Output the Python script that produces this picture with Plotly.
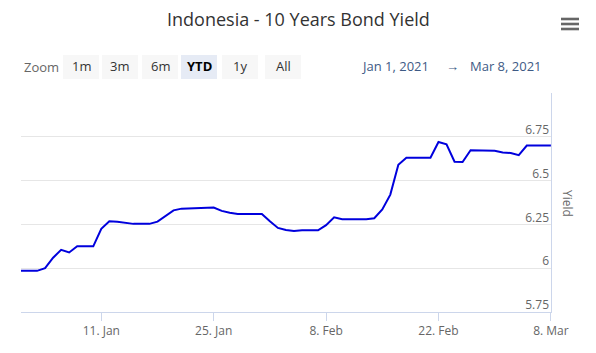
import pandas as pd
import plotly.graph_objects as go

# ---- data ----
dates = pd.date_range("2021-01-01", "2021-03-08", freq="D")
yield_values = [
    # Jan
    5.985, 5.985, 5.985, 6.00, 6.06, 6.105, 6.09, 6.125, 6.125, 6.125,
    6.225, 6.268, 6.265, 6.26, 6.253, 6.253, 6.253, 6.266, 6.297, 6.33,
    6.34, 6.342, 6.342, 6.342, 6.346, 6.327, 6.316, 6.31, 6.31, 6.31, 6.31,
    # Feb
    6.268, 6.23, 6.218, 6.213, 6.216, 6.216, 6.216, 6.246, 6.29, 6.28,
    6.28, 6.28, 6.28, 6.285, 6.335, 6.42, 6.59, 6.63, 6.63, 6.63,
    6.63, 6.72, 6.707, 6.608, 6.606, 6.673, 6.673, 6.673,
    # Mar
    6.67, 6.66, 6.658, 6.645, 6.70, 6.70, 6.70, 6.70,
]
x_tick_vals = ["2021-01-11", "2021-01-25", "2021-02-08", "2021-02-22", "2021-03-08"]
x_tick_text = ["11. Jan", "25. Jan", "8. Feb", "22. Feb", "8. Mar"]
y_tick_vals = [5.75, 6.0, 6.25, 6.5, 6.75, 7.0]
y_tick_text = ["5.75", "6", "6.25", "6.5", "6.75", ""]
zoom_buttons = ["1m", "3m", "6m", "YTD", "1y", "All"]
selected_button = "YTD"
title_text = "Indonesia - 10 Years Bond Yield"
range_from = "Jan 1, 2021"
range_to = "Mar 8, 2021"

# ---- layout geometry (pixels) ----
W, H = 596, 353
L, R, T, B = 21, 45, 93, 41
PW, PH = W - L - R, H - T - B

def px(xp):
    return (xp - L) / PW

def py(yp):
    return (H - B - yp) / PH

FONT = "Open Sans"
X_RANGE = ["2021-01-01", "2021-03-08 00:20"]
Y_RANGE = [5.75, 7.0]

fig = go.Figure()
fig.add_trace(go.Scatter(
    x=dates, y=yield_values, mode="lines",
    line=dict(color="#0000dd", width=2),
    showlegend=False, hoverinfo="x+y",
))
# invisible companion trace so the label axis (y2) is drawn
fig.add_trace(go.Scatter(
    x=[dates[0]], y=[yield_values[0]], yaxis="y2", mode="markers",
    marker=dict(opacity=0), showlegend=False, hoverinfo="skip",
))

shapes = []
annotations = []

# title
annotations.append(dict(
    x=px(298), y=py(19), xref="paper", yref="paper", text=title_text,
    showarrow=False, font=dict(family=FONT, size=18, color="#333333"),
    xanchor="center", yanchor="middle",
))

# zoom label
annotations.append(dict(
    x=px(22), y=py(67), xref="paper", yref="paper", text="Zoom",
    showarrow=False, font=dict(family=FONT, size=13, color="#666666"),
    xanchor="left", yanchor="middle",
))

btn_x0 = [63, 102, 142, 181, 222, 265]
btn_w = 36
for name, x0 in zip(zoom_buttons, btn_x0):
    sel = name == selected_button
    shapes.append(dict(
        type="rect", xref="paper", yref="paper",
        x0=px(x0), x1=px(x0 + btn_w), y0=py(79), y1=py(55),
        fillcolor="#e6ebf5" if sel else "#f7f7f7", line=dict(width=0),
        layer="below",
    ))
    annotations.append(dict(
        x=px(x0 + btn_w / 2), y=py(66), xref="paper", yref="paper",
        text=f"<b>{name}</b>" if sel else name, showarrow=False,
        font=dict(family=FONT, size=13, color="#000000" if sel else "#333333"),
        xanchor="center", yanchor="middle",
    ))

# date range inputs
annotations.append(dict(
    x=px(395), y=py(66), xref="paper", yref="paper", text=range_from,
    showarrow=False, font=dict(family=FONT, size=13, color="#3e5a85"),
    xanchor="center", yanchor="middle",
))
annotations.append(dict(
    x=px(452), y=py(66), xref="paper", yref="paper", text="→",
    showarrow=False, font=dict(family=FONT, size=13, color="#3e5a85"),
    xanchor="center", yanchor="middle",
))
annotations.append(dict(
    x=px(506), y=py(66), xref="paper", yref="paper", text=range_to,
    showarrow=False, font=dict(family=FONT, size=13, color="#3e5a85"),
    xanchor="center", yanchor="middle",
))

# hamburger menu
for yy in [19, 24, 29]:
    shapes.append(dict(
        type="rect", xref="paper", yref="paper",
        x0=px(561), x1=px(579), y0=py(yy + 1.3), y1=py(yy - 1.3),
        fillcolor="#666666", line=dict(width=0),
    ))

# y axis title
annotations.append(dict(
    x=px(568), y=py(203), xref="paper", yref="paper", text="Yield",
    showarrow=False, textangle=90,
    font=dict(family=FONT, size=12, color="#666666"),
    xanchor="center", yanchor="middle",
))

fig.update_layout(
    width=W, height=H,
    margin=dict(l=L, r=R, t=T, b=B),
    paper_bgcolor="white", plot_bgcolor="white",
    font=dict(family=FONT, size=12, color="#666666"),
    shapes=shapes, annotations=annotations,
    showlegend=False,
    xaxis=dict(
        range=X_RANGE, tickvals=x_tick_vals, ticktext=x_tick_text,
        showgrid=False, zeroline=False,
        showline=True, linecolor="#ccd6eb", linewidth=1,
        ticks="outside", ticklen=8, tickcolor="#ccd6eb",
        tickfont=dict(family=FONT, size=12, color="#666666"),
    ),
    yaxis=dict(
        range=Y_RANGE, side="right",
        tickvals=y_tick_vals, showticklabels=False,
        showgrid=True, gridcolor="#e6e6e6", gridwidth=1,
        zeroline=False, showline=True, linecolor="#ccd6eb", linewidth=1,
        ticks="",
    ),
    yaxis2=dict(
        range=Y_RANGE, overlaying="y", side="left",
        anchor="free", position=px(549),
        tickvals=y_tick_vals, ticktext=y_tick_text,
        ticklabelshift=-7,
        showgrid=False, zeroline=False, showline=False, ticks="",
        tickfont=dict(family=FONT, size=12, color="#666666"),
    ),
)

fig.write_html("out.html", config={"displayModeBar": False})
